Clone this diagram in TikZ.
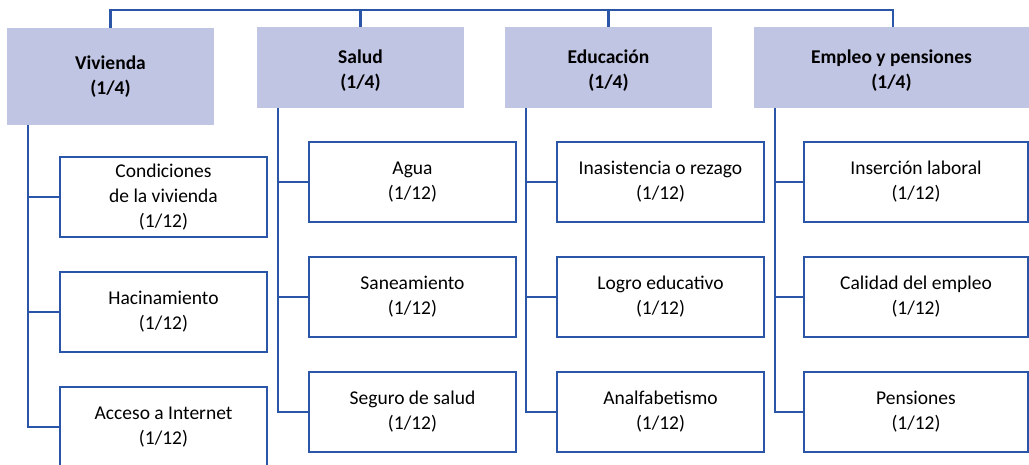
\documentclass[tikz,border=0pt]{standalone}
\usepackage{fontspec}
\setmainfont{Carlito}
\usetikzlibrary{positioning}
\definecolor{linkblue}{HTML}{2B55A6}
\definecolor{dimfill}{HTML}{C1C5E4}
\newcommand\diagfont{\fontsize{19.5}{25}\selectfont}
\newcommand\hdstrut{\rule{0pt}{20.5pt}}
\tikzset{
  dimension/.style={rectangle, fill=dimfill, minimum width=207pt, minimum height=81pt, inner sep=0pt, align=center, font=\diagfont\bfseries}, % header of each dimension
  indicator/.style={rectangle, draw=linkblue, line width=2.4pt, fill=white, minimum width=207pt, minimum height=80pt, inner sep=0pt, align=center, font=\diagfont},
  link/.style={draw=linkblue, line width=2.4pt}
}
\begin{document}
\begin{tikzpicture}[x=1pt, y=-1pt, node distance=32.6pt]
    \useasboundingbox (0,0) rectangle (1029,465);

    % Dimensions
    \node[dimension, minimum height=97pt] (hviv) at (110.5,76.5) {Vivienda\\(1/4)};
    \node[dimension] (hsal) at (360.5,67.5) {\hdstrut Salud\\(1/4)};
    \node[dimension] (hedu) at (608.5,67.5) {\hdstrut Educación\\(1/4)};
    \node[dimension, minimum width=275pt] (hemp) at (891.5,67.5) {\hdstrut Empleo y pensiones\\(1/4)};

    % Indicators
    \node[indicator] (viv1) at (163.5,197) {Condiciones\\de la vivienda\\(1/12)};
    \node[indicator, below=of viv1] (viv2) {Hacinamiento\\(1/12)};
    \node[indicator, below=of viv2] (viv3) {Acceso a Internet\\(1/12)};

    \node[indicator] (sal1) at (412.5,182) {Agua\\(1/12)};
    \node[indicator, below=of sal1] (sal2) {Saneamiento\\(1/12)};
    \node[indicator, below=of sal2] (sal3) {Seguro de salud\\(1/12)};

    \node[indicator] (edu1) at (660.5,182) {Inasistencia o rezago\\(1/12)};
    \node[indicator, below=of edu1] (edu2) {Logro educativo\\(1/12)};
    \node[indicator, below=of edu2] (edu3) {Analfabetismo\\(1/12)};

    \node[indicator, minimum width=224pt] (emp1) at (916,182) {Inserción laboral\\(1/12)};
    \node[indicator, minimum width=224pt, below=of emp1] (emp2) {Calidad del empleo\\(1/12)};
    \node[indicator, minimum width=224pt, below=of emp2] (emp3) {Pensiones\\(1/12)};

    % Edges
    \coordinate (topbar) at (0,10);
    \draw[link] (hviv.north) -- (hviv.north |- topbar) -- ([xshift=1.5pt]hemp.north |- topbar) -- ([xshift=1.5pt]hemp.north);
    \foreach \h in {hsal,hedu}
      \draw[link] (\h.north) -- (\h.north |- topbar);

    \foreach \c in {viv,sal,edu,emp} {
      \draw[link] ([xshift=21pt]h\c.south west) coordinate (t\c) |- (\c3.west);
      \foreach \i in {1,2}
        \draw[link] (t\c |- \c\i.west) -- (\c\i.west);
    }

\end{tikzpicture}
\end{document}
